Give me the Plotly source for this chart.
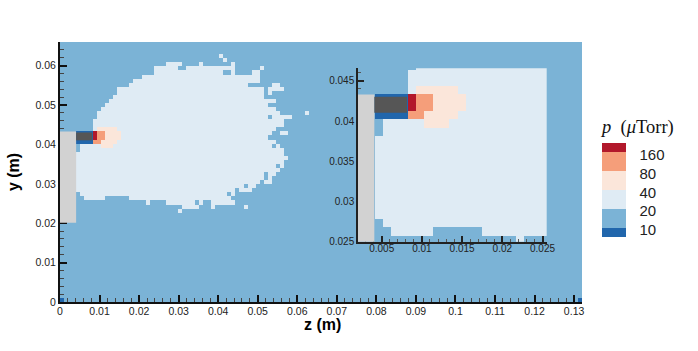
import numpy as np
import plotly.graph_objects as go

# grid of the simulation: 128 x 64 cells
cell = 0.132 / 128
n_z, n_y = 128, 64
p_background = 15
p_plume = 30
p_peach = 60
p_orange = 120
p_red = 200
p_low = 8

# plume cells per row: row, first cell, end cell (exclusive)
plume_rows = [58, 57, 56, 55, 54, 53, 52, 51, 50, 49, 48, 47, 46, 45, 44, 43, 42, 41, 40, 39, 38,
              37, 36, 35, 34, 33, 32, 31, 30, 29, 28, 27, 26, 25, 24, 23]
plume_first = [26, 23, 23, 20, 18, 17, 14, 14, 13, 12, 11, 10, 9, 9, 8, 8, 8, 8, 8, 8, 5,
               5, 4, 4, 4, 4, 4, 4, 4, 4, 4, 4, 5, 6, 21, 30]
plume_end = [30, 43, 49, 49, 49, 46, 50, 50, 50, 53, 51, 53, 54, 57, 55, 55, 53, 52, 51, 53, 54,
             55, 55, 56, 55, 55, 54, 53, 52, 52, 48, 47, 43, 42, 43, 34]
# background coloured cells inside the plume (row, cell)
plume_holes = [(57, 29), (57, 30), (56, 40), (56, 41), (56, 43), (56, 44), (56, 45), (56, 46),
               (45, 51), (38, 52), (33, 53), (31, 50), (30, 50), (29, 49), (28, 45), (27, 43),
               (26, 41), (25, 11), (25, 12), (25, 13), (25, 14), (25, 15), (25, 16),
               (24, 22), (24, 23), (24, 24), (24, 25), (24, 33), (24, 35), (24, 36)]
# isolated plume cells outside the main outline (row, cell)
plume_islands = [(60, 39), (59, 40), (58, 34), (58, 42), (57, 49), (53, 52), (53, 53),
                 (52, 51), (52, 52), (52, 53), (52, 54), (51, 51), (46, 60), (41, 54), (41, 55),
                 (23, 37), (23, 45), (22, 29)]
peach_cells = [(42, 9), (42, 10), (42, 11), (42, 12), (42, 13),
               (41, 11), (41, 12), (41, 13), (41, 14), (40, 11), (40, 12), (40, 13), (40, 14),
               (39, 10), (39, 11), (39, 12), (39, 13), (38, 10), (38, 11), (38, 12)]
orange_cells = [(41, 9), (41, 10), (40, 9), (40, 10), (39, 8), (39, 9)]
red_cells = [(41, 8), (40, 8)]
low_cells = [(41, 4), (41, 5), (41, 6), (41, 7), (40, 4), (40, 5), (40, 6), (40, 7),
             (39, 4), (39, 5), (39, 6), (39, 7), (0, 0), (0, 127)]

# solid parts of the thruster: z0, z1, y0, y1
wall = [0.0, 0.00408, 0.0201, 0.0433]
anode = [0.00408, 0.00815, 0.04104, 0.04303]

legend_levels = [0, 1, 2, 3, 4]
legend_labels = ["10", "20", "40", "80", "160"]
band_colors = ["#2166ac", "#7bb3d6", "#dfebf4", "#fbe6da", "#f59e7a", "#b2182b"]

W, H = 698, 351


def px_x(v):
    return v / W


def px_y(v):
    return 1 - v / H


pressure = np.full((n_y, n_z), float(p_background))
for row, first, end in zip(plume_rows, plume_first, plume_end):
    pressure[row, first:end] = p_plume
for row, col in plume_holes:
    pressure[row, col] = p_background
for row, col in plume_islands:
    pressure[row, col] = p_plume
for cells, value in [(peach_cells, p_peach), (orange_cells, p_orange),
                     (red_cells, p_red), (low_cells, p_low)]:
    for row, col in cells:
        pressure[row, col] = value

level = np.log2(pressure / 10)
zc = (np.arange(n_z) + 0.5) * cell
yc = (np.arange(n_y) + 0.5) * cell

# stepped colorscale, one band per factor of two
zmin, zmax = -0.5, 4.5
bounds = [-0.5, 0, 1, 2, 3, 4, 4.5]
colorscale = []
for c, lo, hi in zip(band_colors, bounds[:-1], bounds[1:]):
    colorscale.append([(lo - zmin) / (zmax - zmin), c])
    colorscale.append([(hi - zmin) / (zmax - zmin), c])

fig = go.Figure()
fig.add_trace(go.Heatmap(
    x=zc, y=yc, z=level, xaxis="x", yaxis="y", zmin=zmin, zmax=zmax, colorscale=colorscale,
    hoverinfo="skip",
    colorbar=dict(
        x=px_x(601.5), xanchor="left", xpad=0, y=px_y(143), yanchor="top", ypad=0,
        lenmode="pixels", len=94, thicknessmode="pixels", thickness=24,
        outlinewidth=0, ticks="outside", ticklen=11, tickcolor="rgba(0,0,0,0)",
        # labels sit a little under the band edges in the original
        tickvals=[v - 0.13 for v in legend_levels], ticktext=legend_labels,
        tickfont=dict(family="Liberation Sans", size=15, color="#222222"),
    ),
))
fig.add_trace(go.Heatmap(
    x=zc, y=yc, z=level, xaxis="x2", yaxis="y2", zmin=zmin, zmax=zmax, colorscale=colorscale,
    hoverinfo="skip", showscale=False,
))

for xref, yref in [("x", "y"), ("x2", "y2")]:
    fig.add_shape(type="rect", xref=xref, yref=yref, x0=wall[0], x1=wall[1], y0=wall[2], y1=wall[3],
                  fillcolor="#d2d2d2", line_width=0)
    fig.add_shape(type="rect", xref=xref, yref=yref, x0=anode[0], x1=anode[1], y0=anode[2], y1=anode[3],
                  fillcolor="#565656", line_width=0)

tick_main = dict(family="Liberation Sans", size=10.5, color="#222222")
tick_inset = dict(family="Liberation Sans", size=10, color="#222222")
title_font = dict(family="Liberation Sans", size=16, color="#000000", weight=700)

fig.add_annotation(text="<i>p</i>  (<i>μ</i>Torr)", xref="paper", yref="paper",
                   x=px_x(598), y=px_y(128), xanchor="left", yanchor="middle", showarrow=False,
                   font=dict(family="Liberation Serif", size=18.5, color="#111111"))
fig.add_annotation(text="z (m)", xref="paper", yref="paper",
                   x=px_x(322), y=px_y(324), xanchor="center", yanchor="middle", showarrow=False,
                   font=title_font)

fig.update_layout(
    width=W, height=H,
    margin=dict(l=0, r=0, t=0, b=0, autoexpand=False),
    paper_bgcolor="white", plot_bgcolor="rgba(0,0,0,0)",
    xaxis=dict(
        domain=[px_x(60), px_x(582)], range=[0, 0.132], dtick=0.01, tick0=0,
        showgrid=False, zeroline=False, showline=True, linewidth=2, linecolor="#111111",
        ticks="inside", ticklen=7, tickwidth=2, tickcolor="#111111", tickfont=tick_main,
        ticklabelstandoff=-2,
        minor=dict(dtick=0.002, ticks="inside", ticklen=4, tickwidth=1, tickcolor="#444444"),
        anchor="y",
    ),
    yaxis=dict(
        domain=[px_y(302), px_y(42)], range=[0, 0.066], dtick=0.01, tick0=0,
        showgrid=False, zeroline=False, showline=True, linewidth=2, linecolor="#111111",
        ticks="inside", ticklen=7, tickwidth=2, tickcolor="#111111", tickfont=tick_main,
        minor=dict(dtick=0.002, ticks="inside", ticklen=4, tickwidth=1, tickcolor="#444444"),
        title=dict(text="y (m)", font=title_font, standoff=12), anchor="x",
    ),
    xaxis2=dict(
        domain=[px_x(358), px_x(546.7)], range=[0.00205, 0.02552], dtick=0.005, tick0=0,
        showgrid=False, zeroline=False, showline=True, linewidth=1.5, linecolor="#222222",
        ticks="inside", ticklen=6, tickwidth=1.5, tickcolor="#222222", tickfont=tick_inset,
        ticklabelstandoff=-3,
        minor=dict(dtick=0.001, ticks="inside", ticklen=3, tickwidth=1, tickcolor="#555555"),
        anchor="y2",
    ),
    yaxis2=dict(
        domain=[px_y(241.7), px_y(68.3)], range=[0.025, 0.04656], dtick=0.005, tick0=0,
        showgrid=False, zeroline=False, showline=True, linewidth=1.5, linecolor="#222222",
        ticks="inside", ticklen=6, tickwidth=1.5, tickcolor="#222222", tickfont=tick_inset,
        minor=dict(dtick=0.001, ticks="inside", ticklen=3, tickwidth=1, tickcolor="#555555"),
        anchor="x2",
    ),
)

# page body has an 8px margin by default, the figure fills the window here
fig.write_html("out.html", config=dict(displayModeBar=False),
               post_script="document.body.style.margin='0';")
